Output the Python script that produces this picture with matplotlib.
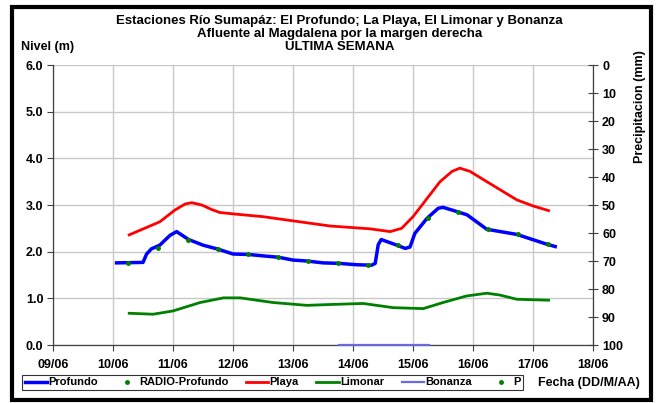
import matplotlib
matplotlib.use('Agg')
import matplotlib.pyplot as plt
import matplotlib.patches as patches

plt.rcParams['font.family'] = ['Liberation Sans', 'DejaVu Sans']
plt.rcParams['font.weight'] = 'bold'

# days of June (decimal)
profundo_x = [10.06, 10.5, 10.56, 10.64, 10.78, 10.95, 11.06, 11.26, 11.5, 11.76, 12.0, 12.26,
              12.5, 12.76, 13.0, 13.23, 13.5, 13.76, 14.06, 14.31, 14.37, 14.42, 14.47,
              14.73, 14.87, 14.95, 15.03, 15.23, 15.42, 15.5, 15.73, 15.9, 16.23, 16.73,
              17.23, 17.37]
profundo_y = [1.76, 1.77, 1.95, 2.06, 2.14, 2.35, 2.43, 2.26, 2.14, 2.05, 1.95, 1.94,
              1.91, 1.88, 1.82, 1.80, 1.76, 1.75, 1.72, 1.71, 1.75, 2.15, 2.26,
              2.14, 2.07, 2.10, 2.39, 2.71, 2.93, 2.95, 2.86, 2.79, 2.48, 2.37,
              2.16, 2.11]

radio_x = [10.25, 10.75, 11.25, 11.75, 12.25, 12.75, 13.25, 13.75, 14.25, 14.75,
           15.25, 15.75, 16.25, 16.75, 17.25]
radio_y = [1.76, 2.07, 2.26, 2.05, 1.94, 1.88, 1.80, 1.75, 1.71, 2.14,
           2.72, 2.86, 2.48, 2.37, 2.16]

playa_x = [10.27, 10.78, 11.03, 11.2, 11.31, 11.48, 11.65, 11.78, 12.0, 12.5, 13.0, 13.62,
           14.28, 14.45, 14.62, 14.81, 15.0, 15.45, 15.65, 15.78, 15.95, 16.23, 16.73,
           17.0, 17.26]
playa_y = [2.36, 2.64, 2.89, 3.02, 3.05, 3.00, 2.90, 2.84, 2.81, 2.75, 2.66, 2.55,
           2.49, 2.46, 2.43, 2.50, 2.75, 3.50, 3.72, 3.79, 3.72, 3.50, 3.11,
           2.98, 2.88]

limonar_x = [10.27, 10.67, 11.0, 11.45, 11.84, 12.12, 12.67, 13.23, 13.67, 14.17,
             14.67, 15.17, 15.5, 15.89, 16.23, 16.45, 16.73, 17.26]
limonar_y = [0.68, 0.66, 0.73, 0.91, 1.01, 1.01, 0.91, 0.85, 0.87, 0.89,
             0.80, 0.78, 0.91, 1.05, 1.11, 1.07, 0.98, 0.96]

bonanza_x = [13.76, 15.26]
bonanza_y = [0.0, 0.0]

p_x = []
p_y = []

day_ticks = [9, 10, 11, 12, 13, 14, 15, 16, 17, 18]
day_labels = ['09/06', '10/06', '11/06', '12/06', '13/06', '14/06',
              '15/06', '16/06', '17/06', '18/06']
nivel_ticks = [0, 1, 2, 3, 4, 5, 6]
precip_ticks = [0, 10, 20, 30, 40, 50, 60, 70, 80, 90, 100]

fig = plt.figure(figsize=(6.56, 4.03), dpi=100)
ax = fig.add_axes([0.0808, 0.1439, 0.8232, 0.6948])

ax.grid(True, color='#c8c8c8', linewidth=1.0)
ax.set_axisbelow(True)

ax.plot(profundo_x, profundo_y, color='#0000ff', lw=2.5, label='Profundo', zorder=3)
ax.plot(radio_x, radio_y, ls='none', marker='o', ms=2.5, color='#008000',
        label='RADIO-Profundo', zorder=4)
ax.plot(playa_x, playa_y, color='#ff0000', lw=2.0, label='Playa', zorder=3)
ax.plot(limonar_x, limonar_y, color='#008000', lw=2.0, label='Limonar', zorder=3)
ax.plot(bonanza_x, bonanza_y, color='#6a6ae0', lw=1.6, label='Bonanza', zorder=3,
        clip_on=False)
ax.plot(p_x, p_y, ls='none', marker='o', ms=2.5, color='#008000', label='P')

ax.set_xlim(9, 18)
ax.set_ylim(0, 6)
ax.set_xticks(day_ticks)
ax.set_xticklabels(day_labels)
ax.set_yticks(nivel_ticks)
ax.set_yticklabels([f'{v:.1f}' for v in nivel_ticks])
ax.tick_params(labelsize=9, length=4, color='#404040', width=0.8, pad=3)
ax.tick_params(axis='x', pad=6)

for side in ['top', 'right']:
    ax.spines[side].set_visible(False)
for side in ['left', 'bottom']:
    ax.spines[side].set_color('#404040')
    ax.spines[side].set_linewidth(0.9)

ax2 = ax.twinx()
ax2.set_ylim(100, 0)
ax2.set_yticks(precip_ticks)
ax2.tick_params(labelsize=9, length=7, direction='inout', color='#404040', width=0.8, pad=3)
for side in ['top', 'left', 'bottom']:
    ax2.spines[side].set_visible(False)
ax2.spines['right'].set_color('#404040')
ax2.spines['right'].set_linewidth(0.9)

fig.text(0.518, 0.948, 'Estaciones Río Sumapáz: El Profundo; La Playa, El Limonar y Bonanza',
         ha='center', va='center', fontsize=9.5, fontweight='bold')
fig.text(0.518, 0.916, 'Afluente al Magdalena por la margen derecha',
         ha='center', va='center', fontsize=9.5, fontweight='bold')
fig.text(0.518, 0.884, 'ULTIMA SEMANA',
         ha='center', va='center', fontsize=9.5, fontweight='bold')
fig.text(0.032, 0.884, 'Nivel (m)', ha='left', va='center', fontsize=9, fontweight='bold')
fig.text(0.975, 0.735, 'Precipitacion (mm)', ha='center', va='center', rotation=90,
         fontsize=9, fontweight='bold')
fig.text(0.82, 0.05, 'Fecha (DD/M/AA)', ha='left', va='center', fontsize=9, fontweight='bold')

handles, labels = ax.get_legend_handles_labels()
leg = fig.legend(handles, labels, loc='center', bbox_to_anchor=(0.4154, 0.0509), ncol=6,
                 fontsize=8, frameon=True, fancybox=False, edgecolor='black',
                 handlelength=2.0, handletextpad=0.1, columnspacing=1.6,
                 borderpad=0.25, borderaxespad=0)
leg.get_frame().set_linewidth(0.8)

# outer frame round the whole chart
fig.add_artist(patches.Rectangle((0.019, 0.008), 0.973, 0.975, transform=fig.transFigure,
                                 fill=False, edgecolor='black', linewidth=3))

fig.savefig('out.png', dpi=100)
